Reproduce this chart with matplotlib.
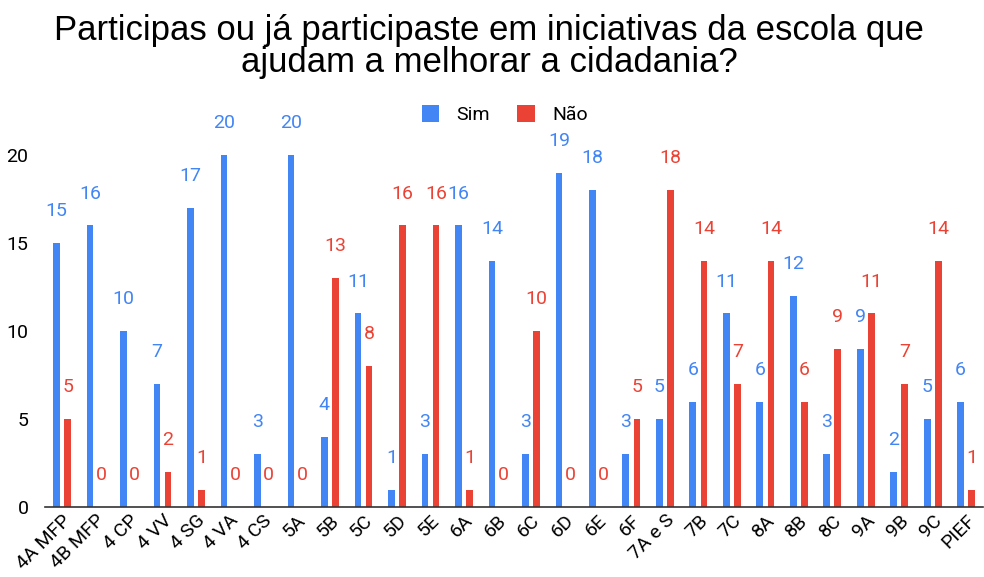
import numpy as np
import matplotlib.pyplot as plt

categories = ['4A MFP', '4B MFP', '4 CP', '4 VV', '4 SG', '4 VA', '4 CS', '5A', '5B', '5C',
              '5D', '5E', '6A', '6B', '6C', '6D', '6E', '6F', '7A e S', '7B', '7C', '8A',
              '8B', '8C', '9A', '9B', '9C', 'PIEF']
sim = [15, 16, 10, 7, 17, 20, 3, 20, 4, 11, 1, 3, 16, 14, 3, 19, 18, 3, 5, 6, 11, 6, 12, 3, 9, 2, 5, 6]
nao = [5, 0, 0, 2, 1, 0, 0, 0, 13, 8, 16, 16, 1, 0, 10, 0, 0, 5, 18, 14, 7, 14, 6, 9, 11, 7, 14, 1]

blue = '#4285f4'
red = '#ea4335'

plt.rcParams['font.family'] = ['Roboto', 'DejaVu Sans']

fig = plt.figure(figsize=(9.84, 5.77), dpi=100)
ax = fig.add_axes([0.046, 0.121, 0.953, 0.702])

x = np.arange(len(categories))
off = 0.165
w = 0.2
ax.bar(x - off, sim, width=w, color=blue, label='Sim', zorder=2)
ax.bar(x + off, nao, width=w, color=red, label='Não', zorder=2)

for xi, v in zip(x, sim):
    ax.text(xi - off, v + 1.3, str(v), color=blue, ha='center', va='bottom', fontsize=14)
for xi, v in zip(x, nao):
    ax.text(xi + off, v + 1.3, str(v), color=red, ha='center', va='bottom', fontsize=14)

ax.set_xlim(-0.5, len(categories) - 0.5)
ax.set_ylim(0, 23)
ax.set_yticks([0, 5, 10, 15, 20])
ax.tick_params(axis='y', length=0, labelsize=14, pad=12)
ax.tick_params(axis='x', length=0, labelsize=14, pad=3)
ax.set_xticks(x)
ax.set_xticklabels(categories, rotation=45, ha='right', rotation_mode='anchor')
for s in ['top', 'right', 'left']:
    ax.spines[s].set_visible(False)
ax.spines['bottom'].set_color('#333333')
ax.spines['bottom'].set_linewidth(1.2)

ax.legend(loc='upper center', bbox_to_anchor=(0.49, 1.035), ncol=2, frameon=False,
          fontsize=14, handlelength=0.9, handleheight=0.9, handletextpad=0.9,
          columnspacing=1.4)

fig.suptitle('Participas ou já participaste em iniciativas da escola que\najudam a melhorar a cidadania?',
             x=0.497, y=0.975, fontsize=25, family='Liberation Sans', linespacing=0.95)

fig.savefig('out.png', dpi=100)
